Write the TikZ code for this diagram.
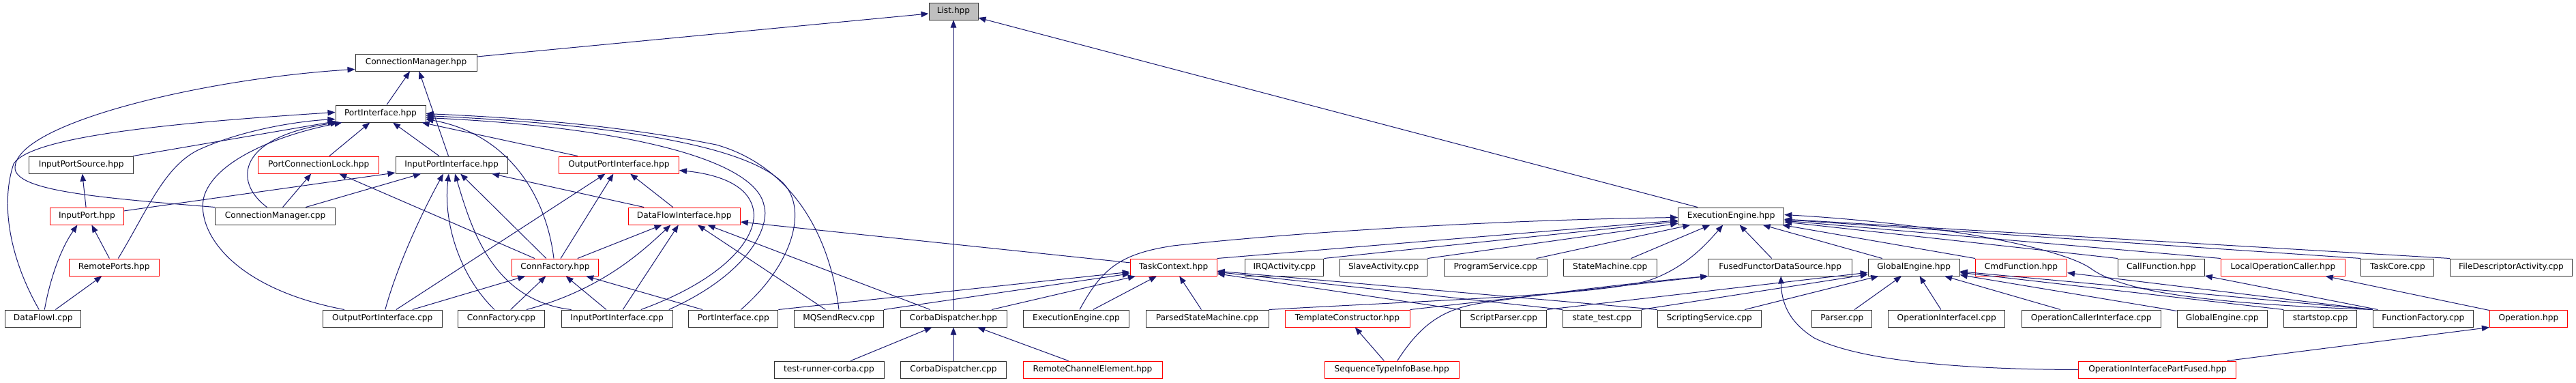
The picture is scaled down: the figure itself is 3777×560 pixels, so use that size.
\documentclass[tikz,border=0pt]{standalone}
\usepackage{fontspec}
\setmainfont{DejaVu Sans}
\usetikzlibrary{arrows.meta}
\definecolor{mblue}{HTML}{191970}
\definecolor{rootfill}{HTML}{BFBFBF}
\newcommand{\dxfont}{\fontsize{12.2pt}{14pt}\selectfont}
\begin{document}
\begin{tikzpicture}[x=1pt,y=-1pt,
  nd/.style={draw=black!80, line width=1pt, minimum height=25pt, inner sep=0pt, font=\dxfont, text=black},
  rd/.style={nd, draw=red},
  rt/.style={nd, fill=rootfill},
  ed/.style={draw=mblue, line width=1pt, -{Triangle[length=11pt,width=8.5pt]}}]
\useasboundingbox (0,0) rectangle (3777,560);
% row 0
\node[rt, minimum width=72pt] (List) at (1398,16.5) {List.hpp};
% row 1
\node[nd, minimum width=178pt] (CMh) at (610,91.5) {ConnectionManager.hpp};
% row 2
\node[nd, minimum width=132pt] (PIh) at (558,166.5) {PortInterface.hpp};
% row 3
\node[nd, minimum width=153pt] (IPS) at (119.3,241.5) {InputPortSource.hpp};
\node[rd, minimum width=177pt] (PCL) at (467.3,241.5) {PortConnectionLock.hpp};
\node[nd, minimum width=164pt] (IPIh) at (662,241.5) {InputPortInterface.hpp};
\node[rd, minimum width=176pt] (OPIh) at (907.5,241.5) {OutputPortInterface.hpp};
% row 4
\node[rd, minimum width=108pt] (IP) at (127.5,316.5) {InputPort.hpp};
\node[nd, minimum width=176pt] (CMc) at (403.5,316.5) {ConnectionManager.cpp};
\node[rd, minimum width=164pt] (DFI) at (1003.3,316.5) {DataFlowInterface.hpp};
\node[nd, minimum width=155pt] (EEh) at (2538.2,316.5) {ExecutionEngine.hpp};
% row 5
\node[rd, minimum width=132pt] (RP) at (167.3,391.5) {RemotePorts.hpp};
\node[rd, minimum width=127pt] (CFh) at (814,391.5) {ConnFactory.hpp};
\node[rd, minimum width=127pt] (TC) at (1720.7,391.5) {TaskContext.hpp};
\node[nd, minimum width=115pt] (IRQ) at (1883.3,391.5) {IRQActivity.cpp};
\node[nd, minimum width=128pt] (Slave) at (2028.7,391.5) {SlaveActivity.cpp};
\node[nd, minimum width=151pt] (PS) at (2192.8,391.5) {ProgramService.cpp};
\node[nd, minimum width=137pt] (SM) at (2360.7,391.5) {StateMachine.cpp};
\node[nd, minimum width=211pt] (FFDS) at (2610.2,391.5) {FusedFunctorDataSource.hpp};
\node[nd, minimum width=134pt] (GEh) at (2806.2,391.5) {GlobalEngine.hpp};
\node[rd, minimum width=134pt] (Cmd) at (2963.5,391.5) {CmdFunction.hpp};
\node[nd, minimum width=127pt] (Call) at (3168.9,391.5) {CallFunction.hpp};
\node[rd, minimum width=182pt] (LOC) at (3347.4,391.5) {LocalOperationCaller.hpp};
\node[nd, minimum width=107pt] (TCore) at (3515.4,391.5) {TaskCore.cpp};
\node[nd, minimum width=179pt] (FDA) at (3682,391.5) {FileDescriptorActivity.cpp};
% row 6
\node[nd, minimum width=111pt] (DFIc) at (63.3,466.5) {DataFlowI.cpp};
\node[nd, minimum width=175pt] (OPIc) at (560.8,466.5) {OutputPortInterface.cpp};
\node[nd, minimum width=127pt] (CFc) at (735,466.5) {ConnFactory.cpp};
\node[nd, minimum width=163pt] (IPIc) at (904.7,466.5) {InputPortInterface.cpp};
\node[nd, minimum width=131pt] (PIc) at (1075.3,466.5) {PortInterface.cpp};
\node[nd, minimum width=131pt] (MQ) at (1230,466.5) {MQSendRecv.cpp};
\node[nd, minimum width=156pt] (CDh) at (1398,466.5) {CorbaDispatcher.hpp};
\node[nd, minimum width=155pt] (EEc) at (1578,466.5) {ExecutionEngine.cpp};
\node[nd, minimum width=180pt] (PSM) at (1770,466.5) {ParsedStateMachine.cpp};
\node[rd, minimum width=183pt] (TCons) at (1975.5,466.5) {TemplateConstructor.hpp};
\node[nd, minimum width=126pt] (SP) at (2204.8,466.5) {ScriptParser.cpp};
\node[nd, minimum width=115pt] (st) at (2348.8,466.5) {state\_test.cpp};
\node[nd, minimum width=152pt] (SS) at (2506.2,466.5) {ScriptingService.cpp};
\node[nd, minimum width=88pt] (Parser) at (2700.8,466.5) {Parser.cpp};
\node[nd, minimum width=171pt] (OII) at (2854.2,466.5) {OperationInterfaceI.cpp};
\node[nd, minimum width=204pt] (OCI) at (3066.2,466.5) {OperationCallerInterface.cpp};
\node[nd, minimum width=132pt] (GEc) at (3258.2,466.5) {GlobalEngine.cpp};
\node[nd, minimum width=107pt] (ss) at (3402.2,466.5) {startstop.cpp};
\node[nd, minimum width=147pt] (FF) at (3552.8,466.5) {FunctionFactory.cpp};
\node[rd, minimum width=114pt] (Op) at (3707.4,466.5) {Operation.hpp};
% row 7
\node[nd, minimum width=161pt] (TRC) at (1215.5,541.5) {test-runner-corba.cpp};
\node[nd, minimum width=155pt] (CDc) at (1398,541.5) {CorbaDispatcher.cpp};
\node[rd, minimum width=204pt] (RCE) at (1602,541.5) {RemoteChannelElement.hpp};
\node[rd, minimum width=197pt] (STIB) at (2040.7,541.5) {SequenceTypeInfoBase.hpp};
\node[rd, minimum width=231pt] (OIPF) at (3163.4,541.5) {OperationInterfacePartFused.hpp};

% ---- edges ----
\draw[ed] (CMh) -- (List);
\draw[ed] (CDh) -- (List);
\draw[ed] (EEh) -- (List);
\draw[ed] (PIh) -- (CMh);
\draw[ed] (IPIh) -- (CMh);
\draw[ed] (CMc.north west) .. controls (150,290) and (20,280) .. (22,245) .. controls (25,180) and (300,115) .. ([yshift=3pt]CMh.south west);
\draw[ed] (PCL) -- (PIh);
\draw[ed] (IPIh) -- (PIh);
\draw[ed] (OPIh) -- (PIh);
\draw[ed] (IPS) -- (PIh);
\draw[ed] ([xshift=-6pt]DFIc.north) .. controls (15,380) and (0,300) .. (20,240) .. controls (45,200) and (250,180) .. ([yshift=2pt]PIh.west);
\draw[ed] ([xshift=6pt]RP.north) .. controls (215,310) and (240,245) .. (290,220) .. controls (350,192) and (430,178) .. ([yshift=5pt]PIh.south west);
\draw[ed] ([xshift=-12pt]CMc.north) .. controls (340,265) and (350,200) .. ([xshift=4pt]PIh.south west);
\draw[ed] ([xshift=32pt]OPIc.north west) .. controls (330,420) and (285,330) .. (300,285) .. controls (320,230) and (420,195) .. ([xshift=10pt]PIh.south west);
\draw[ed] ([xshift=-2pt]CFh.north) .. controls (800,280) and (740,195) .. ([yshift=-8pt]PIh.east);
\draw[ed] ([xshift=-6pt]IPIc.north east) .. controls (1100,400) and (1130,330) .. (1120,300) .. controls (1105,230) and (900,185) .. ([yshift=-6pt]PIh.east);
\draw[ed] ([xshift=11pt]PIc.north) .. controls (1160,390) and (1185,310) .. (1150,270) .. controls (1090,205) and (850,180) .. ([yshift=-3pt]PIh.east);
\draw[ed] (MQ.north) .. controls (1215,330) and (1150,240) .. (1050,212) .. controls (900,182) and (750,172) .. (PIh.east);
\draw[ed] (IP) -- (IPS);
\draw[ed] (CMc) -- (PCL);
\draw[ed] (CFh) -- (PCL);
\draw[ed] (IP) -- (IPIh);
\draw[ed] (CMc) -- (IPIh);
\draw[ed] ([xshift=4pt]OPIc.north) .. controls (585,380) and (625,300) .. ([xshift=-12pt]IPIh.south);
\draw[ed] ([xshift=-10pt]CFc.north) .. controls (670,400) and (650,320) .. ([xshift=-4pt]IPIh.south);
\draw[ed] ([xshift=15pt]IPIc.north west) .. controls (720,440) and (690,330) .. ([xshift=5pt]IPIh.south);
\draw[ed] (CFh) -- (IPIh);
\draw[ed] (DFI) -- (IPIh);
\draw[ed] (OPIc) -- (OPIh);
\draw[ed] (CFh) -- (OPIh);
\draw[ed] (DFI) -- (OPIh);
\draw[ed] ([xshift=35pt]IPIc.north) .. controls (1060,410) and (1110,350) .. (1105,310) .. controls (1100,270) and (1050,255) .. ([yshift=-8pt]OPIh.east);
\draw[ed] (RP) -- (IP);
\draw[ed] ([xshift=2pt]DFIc.north) .. controls (75,400) and (92,360) .. ([xshift=-14pt]IP.south);
\draw[ed] (DFIc) -- (RP);
\draw[ed] (CFh) -- (DFI);
\draw[ed] ([xshift=37pt]CFc.north) .. controls (880,425) and (940,370) .. ([xshift=-20pt]DFI.south);
\draw[ed] (IPIc) -- (DFI);
\draw[ed] (MQ) -- (DFI);
\draw[ed] (CDh) -- (DFI);
\draw[ed] (TC) -- (DFI);
\draw[ed] (OPIc) -- (CFh);
\draw[ed] (CFc) -- (CFh);
\draw[ed] (IPIc) -- (CFh);
\draw[ed] (PIc) -- (CFh);
\draw[ed] (TRC) -- (CDh);
\draw[ed] (CDc) -- (CDh);
\draw[ed] (RCE) -- (CDh);
\draw[ed] (TC.north east) -- (EEh);
\draw[ed] (PIc.north east) -- (TC);
\draw[ed] (MQ.north east) -- (TC);
\draw[ed] (CDh) -- (TC);
\draw[ed] (EEc) -- (TC);
\draw[ed] (PSM) -- (TC);
\draw[ed] ([xshift=5pt]EEc.north) .. controls (1615,395) and (1640,372) .. (1720,360) .. controls (1900,340) and (2200,322) .. ([yshift=-2pt]EEh.west);
\draw[ed] (IRQ.north east) -- (EEh);
\draw[ed] (Slave.north east) -- (EEh);
\draw[ed] (PS) -- (EEh);
\draw[ed] (SM) -- (EEh);
\draw[ed] (PSM.north east) .. controls (2100,440) and (2350,432) .. (2420,410) .. controls (2470,392) and (2500,360) .. ([xshift=-12pt]EEh.south);
\draw[ed] (FFDS) -- (EEh);
\draw[ed] (GEh) -- (EEh);
\draw[ed] (Cmd.north west) -- (EEh);
\draw[ed] (Call.north west) -- (EEh);
\draw[ed] (LOC.north west) -- (EEh);
\draw[ed] (TCore.north west) -- (EEh);
\draw[ed] (FDA.north west) -- (EEh);
\draw[ed] (FF.north west) .. controls (3250,445) and (3120,430) .. (3068,395) .. controls (3030,365) and (2850,328) .. ([yshift=2pt]EEh.east);
\draw[ed] (SP.north east) -- (GEh);
\draw[ed] (st.north east) -- (GEh);
\draw[ed] (SS) -- (GEh);
\draw[ed] (Parser) -- (GEh);
\draw[ed] (OII) -- (GEh);
\draw[ed] (OCI) -- (GEh);
\draw[ed] (GEc) -- (GEh);
\draw[ed] (ss.north west) -- (GEh);
\draw[ed] (FF.north west) -- (GEh);
\draw[ed] (FF.north west) -- (Cmd);
\draw[ed] (FF) -- (Call);
\draw[ed] (Op) -- (LOC);
\draw[ed] (OIPF) -- (Op.south west);
\draw[ed] (OIPF.west) .. controls (2850,541) and (2720,525) .. (2660,495) .. controls (2620,470) and (2612,440) .. ([xshift=1pt]FFDS.south);
\draw[ed] (STIB) -- (TCons);
\draw[ed] ([xshift=8pt]STIB.north) .. controls (2080,480) and (2110,455) .. (2165,445) .. controls (2300,425) and (2420,412) .. (FFDS.south west);
\draw[ed] (TCons.north east) -- (FFDS.south west);
\draw[ed] (SP.north west) -- (TC);
\draw[ed] (st.north west) -- (TC);
\draw[ed] (SS.north west) -- (TC);
\end{tikzpicture}
\end{document}
